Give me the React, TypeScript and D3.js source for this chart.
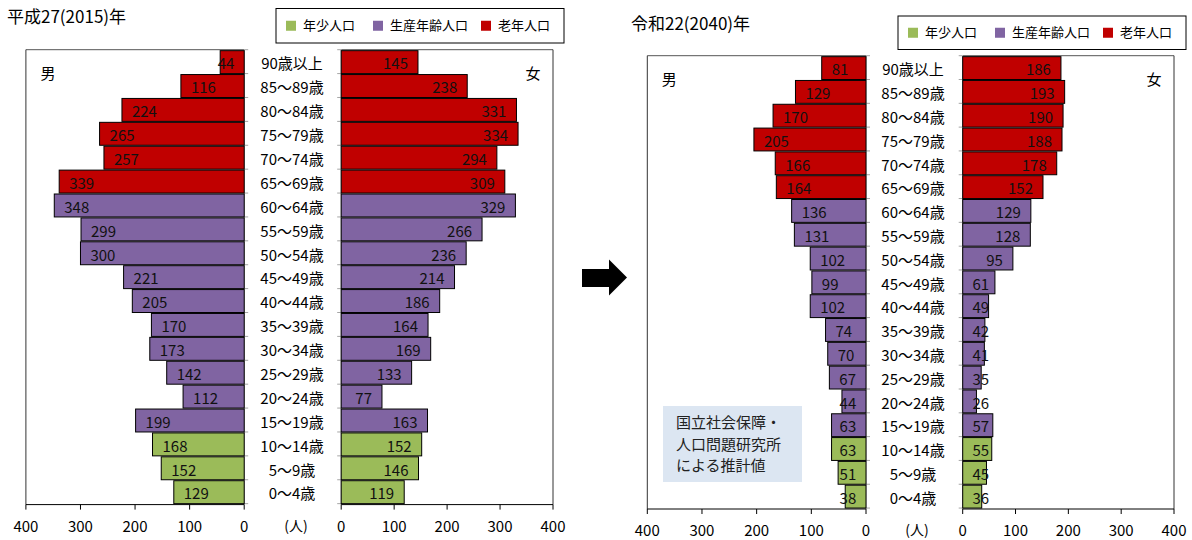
import React from "react";
import * as d3 from "d3";

const width = 1192;
const height = 540;
const font = '"Noto Sans CJK JP", "Noto Sans", sans-serif';

// age groups, top to bottom
const ages = [
  "90歳以上", "85～89歳", "80～84歳", "75～79歳", "70～74歳", "65～69歳",
  "60～64歳", "55～59歳", "50～54歳", "45～49歳", "40～44歳", "35～39歳",
  "30～34歳", "25～29歳", "20～24歳", "15～19歳", "10～14歳", "5～9歳", "0～4歳",
];
const ageGroup = [
  "old", "old", "old", "old", "old", "old",
  "work", "work", "work", "work", "work", "work", "work", "work", "work", "work",
  "young", "young", "young",
];

const male2015 = [44, 116, 224, 265, 257, 339, 348, 299, 300, 221, 205, 170, 173, 142, 112, 199, 168, 152, 129];
const female2015 = [145, 238, 331, 334, 294, 309, 329, 266, 236, 214, 186, 164, 169, 133, 77, 163, 152, 146, 119];
const male2040 = [81, 129, 170, 205, 166, 164, 136, 131, 102, 99, 102, 74, 70, 67, 44, 63, 63, 51, 38];
const female2040 = [186, 193, 190, 188, 178, 152, 129, 128, 95, 61, 49, 42, 41, 35, 26, 57, 55, 45, 36];

const legendKeys = ["young", "work", "old"];
const legendNames = ["年少人口", "生産年齢人口", "老年人口"];
const colors = { young: "#9bbb59", work: "#8064a2", old: "#c00000" };

const panels = [
  {
    title: "平成27(2015)年", titleX: 7, titleY: 23,
    legendX: 276, legendY: 8.5, legendW: 288, legendH: 34.5,
    maleLeft: 25.9, maleAxis: 244.2, femaleAxis: 341.2, femaleRight: 553,
    top: 49.7, bottom: 504.6, catX: 292, unitY: 526,
    male: male2015, female: female2015,
  },
  {
    title: "令和22(2040)年", titleX: 631, titleY: 30,
    legendX: 898, legendY: 16, legendW: 288, legendH: 33.5,
    maleLeft: 647.3, maleAxis: 866, femaleAxis: 962.7, femaleRight: 1174,
    top: 55.7, bottom: 509, catX: 913, unitY: 530,
    male: male2040, female: female2040,
  },
];

function Pyramid({ p }) {
  const xm = d3.scaleLinear().domain([0, 400]).range([p.maleAxis, p.maleLeft]);
  const xf = d3.scaleLinear().domain([0, 400]).range([p.femaleAxis, p.femaleRight]);
  const y = d3.scaleBand().domain(ages).range([p.top, p.bottom]).padding(0.04);
  const step = y.step();
  const ticks = xm.ticks(4);
  const tw = (v) => String(v).length * 8.2;

  // legend item offsets
  const itemX = [10, 97, 205];

  return (
    <g>
      <text x={p.titleX} y={p.titleY} fontSize={17} fill="#000">{p.title}</text>

      <rect x={p.legendX} y={p.legendY} width={p.legendW} height={p.legendH} fill="#fff" stroke="#000" strokeWidth={1} />
      {legendKeys.map((k, i) => (
        <g key={k}>
          <rect x={p.legendX + itemX[i]} y={p.legendY + p.legendH / 2 - 5} width={10} height={10} fill={colors[k]} />
          <text x={p.legendX + itemX[i] + 17} y={p.legendY + p.legendH / 2} dy="0.35em" fontSize={13} fill="#000">
            {legendNames[i]}
          </text>
        </g>
      ))}

      {/* plot frames */}
      <line x1={p.maleLeft} x2={p.maleAxis} y1={p.top} y2={p.top} stroke="#555" />
      <line x1={p.maleLeft} x2={p.maleLeft} y1={p.top} y2={p.bottom} stroke="#333" />
      <line x1={p.femaleAxis} x2={p.femaleRight} y1={p.top} y2={p.top} stroke="#555" />
      <line x1={p.femaleRight} x2={p.femaleRight} y1={p.top} y2={p.bottom} stroke="#333" />

      {/* category axes */}
      <line x1={p.maleAxis} x2={p.maleAxis} y1={p.top} y2={p.bottom} stroke="#a6a6a6" />
      <line x1={p.femaleAxis} x2={p.femaleAxis} y1={p.top} y2={p.bottom} stroke="#a6a6a6" />
      {d3.range(ages.length + 1).map((i) => (
        <g key={i}>
          <line x1={p.maleAxis} x2={p.maleAxis + 4} y1={p.top + i * step} y2={p.top + i * step} stroke="#a6a6a6" />
          <line x1={p.femaleAxis - 4} x2={p.femaleAxis} y1={p.top + i * step} y2={p.top + i * step} stroke="#a6a6a6" />
        </g>
      ))}

      {/* bars */}
      {ages.map((a, i) => (
        <g key={a}>
          <rect x={xm(p.male[i])} y={y(a)} width={p.maleAxis - xm(p.male[i])} height={y.bandwidth()}
            fill={colors[ageGroup[i]]} stroke="#000" strokeWidth={1} />
          <rect x={p.femaleAxis} y={y(a)} width={xf(p.female[i]) - p.femaleAxis} height={y.bandwidth()}
            fill={colors[ageGroup[i]]} stroke="#000" strokeWidth={1} />
        </g>
      ))}

      {/* value labels */}
      {ages.map((a, i) => {
        const cy = y(a) + y.bandwidth() / 2 + 2;
        const mx = Math.min(xm(p.male[i]) + 10, p.maleAxis - 10 - tw(p.male[i]));
        const fx = Math.max(xf(p.female[i]) - 10, p.femaleAxis + 10 + tw(p.female[i]));
        return (
          <g key={a} fontSize={15} fill="#111">
            <text x={mx} y={cy} dy="0.35em" textAnchor="start">{p.male[i]}</text>
            <text x={fx} y={cy} dy="0.35em" textAnchor="end">{p.female[i]}</text>
            <text x={p.catX} y={cy} dy="0.35em" textAnchor="middle" fontSize={15} fill="#000">{a}</text>
          </g>
        );
      })}

      {/* value axes */}
      <line x1={p.maleLeft} x2={p.maleAxis} y1={p.bottom} y2={p.bottom} stroke="#000" />
      <line x1={p.femaleAxis} x2={p.femaleRight} y1={p.bottom} y2={p.bottom} stroke="#000" />
      {ticks.map((t) => (
        <g key={t} fontSize={15} fill="#000" textAnchor="middle">
          <line x1={xm(t)} x2={xm(t)} y1={p.bottom} y2={p.bottom + 5} stroke="#000" />
          <text x={xm(t)} y={p.bottom + 27}>{t}</text>
          <line x1={xf(t)} x2={xf(t)} y1={p.bottom} y2={p.bottom + 5} stroke="#000" />
          <text x={xf(t)} y={p.bottom + 27}>{t}</text>
        </g>
      ))}
      <text x={p.catX + 4} y={p.unitY} dy="0.35em" textAnchor="middle" fontSize={14}>(人)</text>

      <text x={p.maleLeft + 22} y={p.top + 24} dy="0.35em" textAnchor="middle" fontSize={15}>男</text>
      <text x={p.femaleRight - 20} y={p.top + 24} dy="0.35em" textAnchor="middle" fontSize={15}>女</text>
    </g>
  );
}

export default function App() {
  return (
    <svg width={width} height={height} fontFamily={font}
      style={{ position: "absolute", left: 0, top: 0, background: "#fff" }}>
      <rect width={width} height={height} fill="#fff" />
      {panels.map((p) => (
        <Pyramid key={p.title} p={p} />
      ))}

      {/* arrow */}
      <polygon points="582,269 609,269 609,259.5 627,277.5 609,295.5 609,287 582,287" fill="#000" />

      {/* note */}
      <rect x={663} y={406} width={139} height={76} fill="#dce6f2" />
      <g fontSize={15} fill="#222">
        <text x={676} y={423} dy="0.35em">国立社会保障・</text>
        <text x={676} y={445} dy="0.35em">人口問題研究所</text>
        <text x={676} y={466} dy="0.35em">による推計値</text>
      </g>
    </svg>
  );
}
